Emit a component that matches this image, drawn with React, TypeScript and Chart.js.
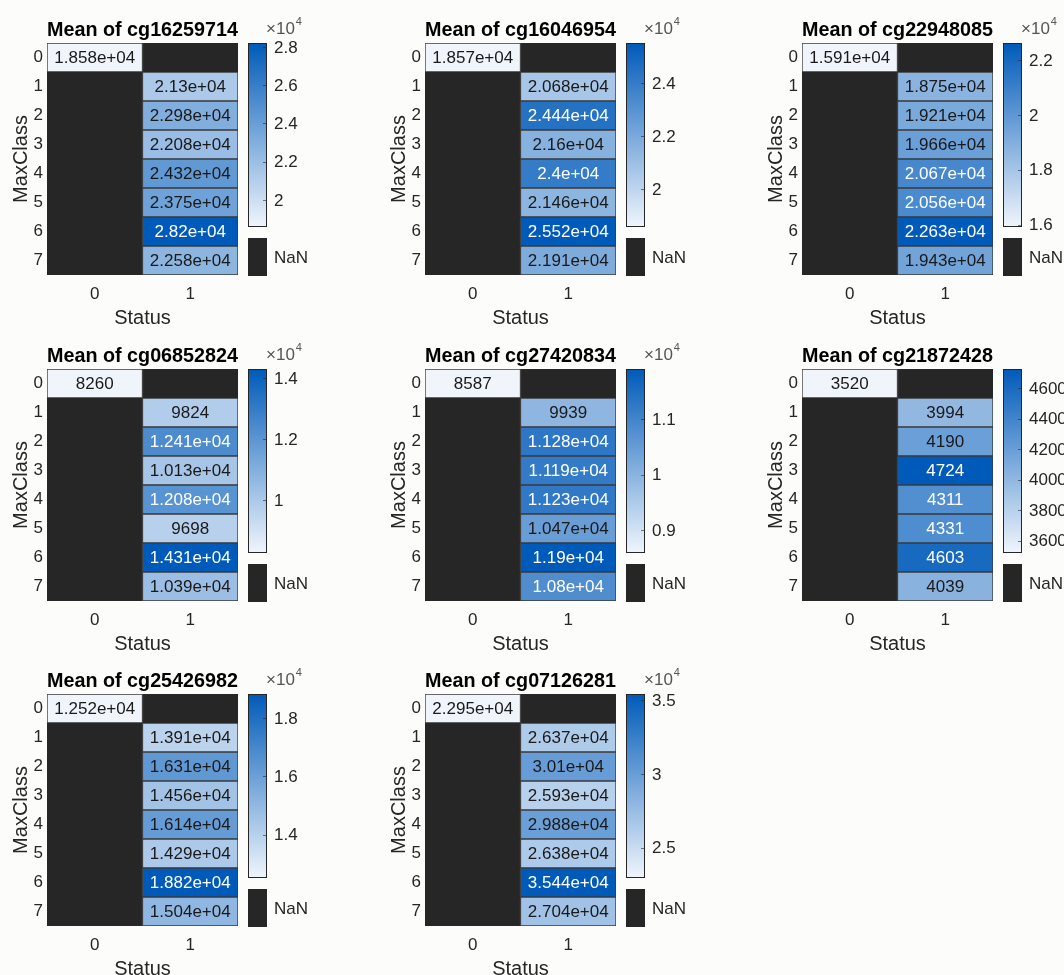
import React, { useEffect, useRef } from 'react';
import { Chart, registerables } from 'chart.js';

Chart.register(...registerables);

// ---------- data ----------
const maxClassLabels = ['0', '1', '2', '3', '4', '5', '6', '7'];
const statusLabels = ['0', '1'];
const probeNames = ['cg16259714', 'cg16046954', 'cg22948085', 'cg06852824', 'cg27420834', 'cg21872428', 'cg25426982', 'cg07126281'];

// [Status 0 column, Status 1 column], rows = MaxClass 0..7 (null = NaN)
const cg16259714 = [
  [18580, null, null, null, null, null, null, null],
  [null, 21300, 22980, 22080, 24320, 23750, 28200, 22580],
];
const cg16046954 = [
  [18570, null, null, null, null, null, null, null],
  [null, 20680, 24440, 21600, 24000, 21460, 25520, 21910],
];
const cg22948085 = [
  [15910, null, null, null, null, null, null, null],
  [null, 18750, 19210, 19660, 20670, 20560, 22630, 19430],
];
const cg06852824 = [
  [8260, null, null, null, null, null, null, null],
  [null, 9824, 12410, 10130, 12080, 9698, 14310, 10390],
];
const cg27420834 = [
  [8587, null, null, null, null, null, null, null],
  [null, 9939, 11280, 11190, 11230, 10470, 11900, 10800],
];
const cg21872428 = [
  [3520, null, null, null, null, null, null, null],
  [null, 3994, 4190, 4724, 4311, 4331, 4603, 4039],
];
const cg25426982 = [
  [12520, null, null, null, null, null, null, null],
  [null, 13910, 16310, 14560, 16140, 14290, 18820, 15040],
];
const cg07126281 = [
  [22950, null, null, null, null, null, null, null],
  [null, 26370, 30100, 25930, 29880, 26380, 35440, 27040],
];
const panelValues = [cg16259714, cg16046954, cg22948085, cg06852824, cg27420834, cg21872428, cg25426982, cg07126281];

// colorbar ticks per panel
const cbTicks16259714 = [20000, 22000, 24000, 26000, 28000];
const cbTicks16046954 = [20000, 22000, 24000];
const cbTicks22948085 = [16000, 18000, 20000, 22000];
const cbTicks06852824 = [10000, 12000, 14000];
const cbTicks27420834 = [9000, 10000, 11000];
const cbTicks21872428 = [3600, 3800, 4000, 4200, 4400, 4600];
const cbTicks25426982 = [14000, 16000, 18000];
const cbTicks07126281 = [25000, 30000, 35000];
const panelCbTicks = [cbTicks16259714, cbTicks16046954, cbTicks22948085, cbTicks06852824, cbTicks27420834, cbTicks21872428, cbTicks25426982, cbTicks07126281];
const cbExponents = [4, 4, 4, 4, 4, 0, 4, 4];

// ---------- style ----------
const FONT = "'Liberation Sans', Arial, Helvetica, sans-serif";
const TEXT = '#262626';
const NAN_COLOR = '#262626';
const LOW = [240, 245, 252];
const HIGH = [0, 90, 185];
const W = 377;
const H = 330;
const colLefts = [0, 378, 755];
const rowTops = [0, 326, 651];

function cmap(f: number): string {
  const t = Math.max(0, Math.min(1, f));
  const c = LOW.map((l, i) => Math.round(l + (HIGH[i] - l) * t));
  return `rgb(${c[0]},${c[1]},${c[2]})`;
}

function fmt4g(v: number): string {
  const exp = Math.floor(Math.log10(Math.abs(v)));
  if (exp < -4 || exp >= 4) {
    const m = parseFloat((v / Math.pow(10, exp)).toPrecision(4)).toString();
    return `${m}e${exp >= 0 ? '+' : '-'}${String(Math.abs(exp)).padStart(2, '0')}`;
  }
  return parseFloat(v.toPrecision(4)).toString();
}

function rangeOf(vals: (number | null)[][]) {
  const flat = vals.flat().filter((v): v is number => v != null);
  return { min: Math.min(...flat), max: Math.max(...flat) };
}

const cellLabelPlugin = {
  id: 'cellLabels',
  afterDatasetsDraw(chart: any) {
    const ctx = chart.ctx;
    const { min, max } = chart.options.plugins.colorbar;
    ctx.save();
    ctx.font = `17px ${FONT}`;
    ctx.textAlign = 'center';
    ctx.textBaseline = 'middle';
    chart.data.datasets.forEach((ds: any, di: number) => {
      const meta = chart.getDatasetMeta(di);
      meta.data.forEach((el: any, i: number) => {
        const v = ds.cellValues[i];
        if (v == null) return;
        const p = el.getProps(['x', 'y', 'base'], true);
        const f = (v - min) / (max - min);
        ctx.fillStyle = f > 0.615 ? '#ffffff' : '#1a1a1a';
        ctx.fillText(fmt4g(v), (p.x + p.base) / 2, p.y + 1);
      });
    });
    ctx.restore();
  },
};

const colorbarPlugin = {
  id: 'colorbar',
  afterDraw(chart: any, _args: any, opts: any) {
    const ctx = chart.ctx;
    const ca = chart.chartArea;
    const { min, max, ticks, exponent } = opts;
    const x0 = ca.right + 10;
    const w = 19;
    const top = ca.top;
    const h = 184;
    ctx.save();
    const g = ctx.createLinearGradient(0, top + h, 0, top);
    for (let i = 0; i <= 10; i++) g.addColorStop(i / 10, cmap(i / 10));
    ctx.fillStyle = g;
    ctx.fillRect(x0, top, w, h);
    ctx.strokeStyle = TEXT;
    ctx.lineWidth = 1;
    ctx.strokeRect(x0 + 0.5, top + 0.5, w - 1, h - 1);
    // NaN box
    const ny = top + 195;
    const nh = 38;
    ctx.fillStyle = NAN_COLOR;
    ctx.fillRect(x0, ny, w, nh);
    ctx.font = `17px ${FONT}`;
    ctx.textAlign = 'left';
    ctx.textBaseline = 'middle';
    ctx.fillStyle = TEXT;
    ctx.fillText('NaN', x0 + w + 7, ny + nh / 2 + 1);
    // ticks
    const scale = Math.pow(10, exponent);
    ticks.forEach((t: number) => {
      const y = top + ((max - t) / (max - min)) * h;
      ctx.strokeStyle = 'rgba(40,40,40,0.6)';
      ctx.beginPath();
      ctx.moveTo(x0 + w - 1, Math.round(y) + 0.5);
      ctx.lineTo(x0 + w - 4, Math.round(y) + 0.5);
      ctx.stroke();
      ctx.fillStyle = TEXT;
      ctx.fillText(parseFloat((t / scale).toPrecision(6)).toString(), x0 + w + 7, y + 1);
    });
    if (exponent) {
      ctx.fillStyle = '#555';
      ctx.font = `17px ${FONT}`;
      ctx.fillText('\u00d710', ca.right + 28, top - 14);
      const wd = ctx.measureText('\u00d710').width;
      ctx.font = `11px ${FONT}`;
      ctx.fillText(String(exponent), ca.right + 28 + wd + 1, top - 21);
    }
    ctx.restore();
  },
};

function Panel({ idx }: { idx: number }) {
  const ref = useRef<HTMLCanvasElement>(null);
  useEffect(() => {
    const values = panelValues[idx];
    const { min, max } = rangeOf(values);
    const datasets = statusLabels.map((s, c) => ({
      label: s,
      data: maxClassLabels.map(() => [c, c + 1]),
      cellValues: values[c],
      backgroundColor: values[c].map((v) => (v == null ? NAN_COLOR : cmap((v - min) / (max - min)))),
      borderColor: values[c].map((v) => (v == null ? '#282828' : '#3a3a3a')),
      borderWidth: 1,
      borderSkipped: false,
      barPercentage: 1,
      categoryPercentage: 1,
      grouped: false,
    }));
    const chart = new Chart(ref.current as HTMLCanvasElement, {
      type: 'bar',
      data: { labels: maxClassLabels, datasets: datasets as any },
      options: {
        indexAxis: 'y',
        responsive: false,
        maintainAspectRatio: false,
        animation: false,
        events: [],
        layout: { padding: { left: 0, top: 0, right: W - 238, bottom: 0 } },
        plugins: {
          legend: { display: false },
          tooltip: { enabled: false },
          title: {
            display: true,
            fullSize: false,
            text: `Mean of ${probeNames[idx]}`,
            color: '#000',
            font: { family: FONT, size: 20, weight: 'bold' },
            padding: { top: 18, bottom: 1 },
          },
          colorbar: { min, max, ticks: panelCbTicks[idx], exponent: cbExponents[idx] },
        } as any,
        scales: {
          y: {
            type: 'category',
            grid: { display: false, drawTicks: false },
            border: { display: false },
            ticks: { color: TEXT, font: { family: FONT, size: 17 }, padding: 4, autoSkip: false },
            title: { display: true, text: 'MaxClass', color: TEXT, font: { family: FONT, size: 20 }, padding: { top: 9, bottom: 0 } },
            afterFit: (s: any) => { s.width = 47; },
          },
          x: {
            type: 'linear',
            min: 0,
            max: statusLabels.length,
            grid: { display: false, drawTicks: false },
            border: { display: false },
            afterBuildTicks: (s: any) => { s.ticks = statusLabels.map((_, i) => ({ value: i + 0.5 })); },
            ticks: {
              color: TEXT,
              font: { family: FONT, size: 17 },
              padding: 9,
              autoSkip: false,
              maxRotation: 0,
              callback: (v: any) => statusLabels[Math.floor(Number(v))],
            },
            title: { display: true, text: 'Status', color: TEXT, font: { family: FONT, size: 20 }, padding: 0 },
            afterFit: (s: any) => { s.height = 55; },
          },
        } as any,
      },
      plugins: [cellLabelPlugin, colorbarPlugin],
    });
    return () => chart.destroy();
  }, [idx]);
  const left = colLefts[idx % 3];
  const top = rowTops[Math.floor(idx / 3)];
  return (
    <canvas
      ref={ref}
      width={W}
      height={H}
      style={{ position: 'absolute', left, top, width: W, height: H }}
    />
  );
}

export default function App() {
  return (
    <div
      style={{
        position: 'absolute',
        left: 0,
        top: 0,
        width: 1064,
        height: 975,
        overflow: 'hidden',
        background: '#fcfcfb',
      }}
    >
      {probeNames.map((_, i) => (
        <Panel key={i} idx={i} />
      ))}
    </div>
  );
}
